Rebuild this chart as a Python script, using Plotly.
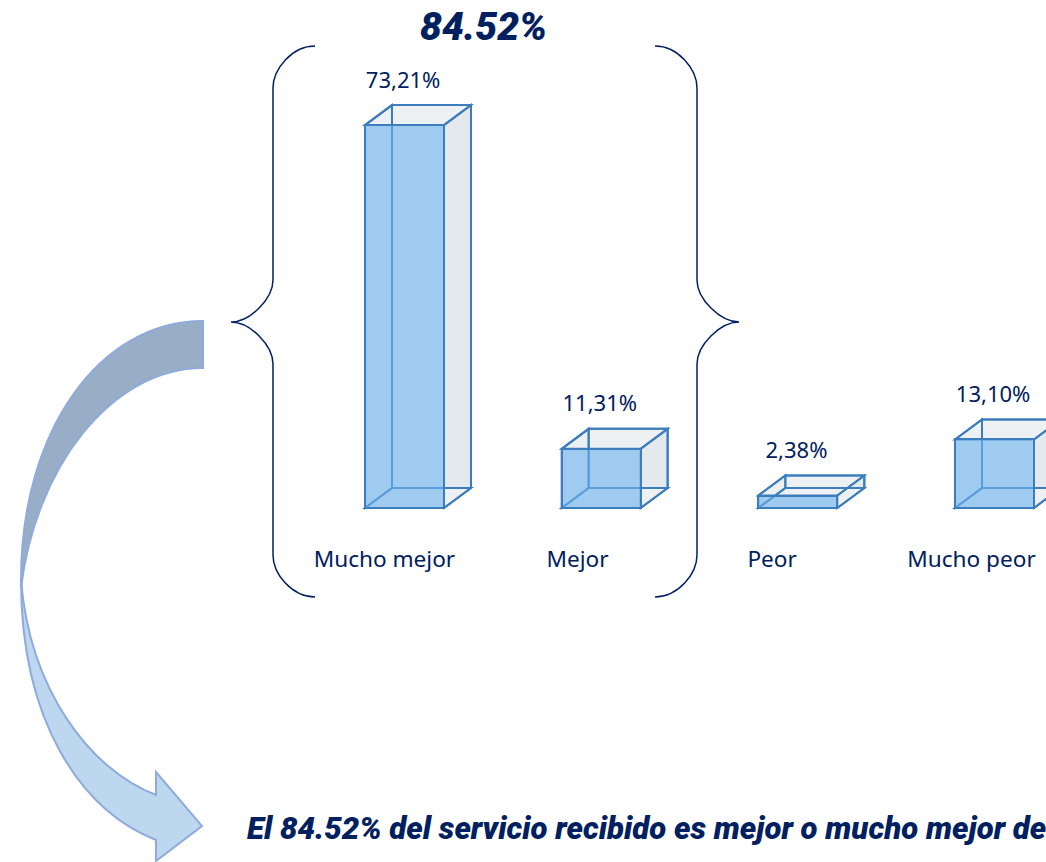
import plotly.graph_objects as go

categories = ["Mucho mejor", "Mejor", "Peor", "Mucho peor"]
values = [73.21, 11.31, 2.38, 13.10]
headline = "84.52%"
footnote = "El 84.52% del servicio recibido es mejor o mucho mejor de"

W, H = 1046, 862
BASE_PX = 508
PLOT_BOTTOM_PX = 522
PX_PER_VALUE = 5.23
PX_PER_CAT = 196.67
ORIGIN_PX = 404.5
NAVY = "#002060"
EDGE = "#3c7dbd"
FONT = "Noto Sans"
HEAVY_FONT = "Roboto"

x_pos = list(range(len(categories)))
bar_w = 79 / PX_PER_CAT
depth_x = 27 / PX_PER_CAT
depth_y = 20 / PX_PER_VALUE
label_gap = 43 / PX_PER_VALUE
tick_shift = [-0.102, -0.12, -0.131, -0.117]


def px(x):
    return x / W


def py(y):
    return 1 - y / PLOT_BOTTOM_PX


def page_path(*cmds):
    out = []
    for c in cmds:
        if isinstance(c, str):
            out.append(c)
        else:
            out.append(f"{px(c[0]):.5f},{py(c[1]):.5f}")
    return " ".join(out)


def poly(pts):
    return "M " + " L ".join(f"{a:.4f},{b:.4f}" for a, b in pts) + " Z"


fills, edges = [], []
for xp, v in zip(x_pos, values):
    l, r = xp - bar_w / 2, xp + bar_w / 2
    faces = [
        ("#eef1f4", [(l + depth_x, depth_y), (r + depth_x, depth_y), (r + depth_x, v + depth_y), (l + depth_x, v + depth_y)]),
        ("#eef1f4", [(l, 0), (l + depth_x, depth_y), (l + depth_x, v + depth_y), (l, v)]),
        ("#e4e9ee", [(r, 0), (r + depth_x, depth_y), (r + depth_x, v + depth_y), (r, v)]),
        ("#eef1f4", [(l, v), (r, v), (r + depth_x, v + depth_y), (l + depth_x, v + depth_y)]),
        ("#eef1f4", [(l, 0), (r, 0), (r + depth_x, depth_y), (l + depth_x, depth_y)]),
    ]
    for color, pts in faces:
        fills.append(dict(type="path", xref="x", yref="y", layer="below", path=poly(pts),
                          fillcolor=color, line=dict(width=0)))
        edges.append(dict(type="path", xref="x", yref="y", layer="below", path=poly(pts),
                          fillcolor="rgba(0,0,0,0)", line=dict(color=EDGE, width=2)))
shapes = fills + edges

# Braces
K = 42 * 0.45
for sign, xv in ((-1, 273), (1, 697)):
    end = xv + sign * -42
    tip = xv + sign * 42
    shapes.append(dict(
        type="path", xref="paper", yref="paper", layer="above",
        line=dict(color=NAVY, width=1.5),
        path=page_path(
            "M", (end, 46), "C", (xv - sign * K, 46), (xv, 88 - K), (xv, 88),
            "L", (xv, 280),
            "C", (xv, 280 + K), (tip - sign * K, 322), (tip, 322),
            "C", (tip - sign * K, 322), (xv, 364 - K), (xv, 364),
            "L", (xv, 555),
            "C", (xv, 555 + K), (xv - sign * K, 597), (end, 597),
        ),
    ))

# Curved arrow
ARROW_LINE = dict(color="#8faadc", width=2)
shapes.append(dict(
    type="path", xref="paper", yref="paper", layer="above", fillcolor="#bdd7ee", line=ARROW_LINE,
    path=page_path(
        "M", (21, 580), "C", (21, 720), (80, 810), (156, 840),
        "L", (156, 861), "L", (202, 826), "L", (156, 772), "L", (156, 795),
        "C", (90, 770), (30, 690), (21, 580), "Z",
    ),
))
shapes.append(dict(
    type="path", xref="paper", yref="paper", layer="above", fillcolor="#98adc6", line=ARROW_LINE,
    path=page_path(
        "M", (203, 321), "C", (100, 321), (21, 430), (21, 580),
        "L", (21, 588),
        "C", (35, 470), (110, 368), (203, 368), "Z",
    ),
))

fig = go.Figure()
fig.add_trace(go.Bar(
    x=x_pos, y=values, width=bar_w,
    marker=dict(color="rgba(108,178,239,0.6)", line=dict(color=EDGE, width=2)),
    cliponaxis=False, hoverinfo="skip", showlegend=False,
))
fig.add_trace(go.Scatter(
    x=[p - 0.007 for p in x_pos], y=[v + label_gap for v in values], mode="text",
    text=[f"{v:.2f}%".replace(".", ",") for v in values],
    textposition="middle center", textfont=dict(family=FONT, size=22, color=NAVY),
    cliponaxis=False, hoverinfo="skip", showlegend=False,
))

fig.update_layout(
    width=W, height=H, margin=dict(l=0, r=0, t=0, b=H - PLOT_BOTTOM_PX),
    paper_bgcolor="white", plot_bgcolor="rgba(0,0,0,0)",
    shapes=shapes, showlegend=False, bargap=0,
    xaxis=dict(
        range=[-ORIGIN_PX / PX_PER_CAT, (W - ORIGIN_PX) / PX_PER_CAT],
        tickmode="array", tickvals=[p + s for p, s in zip(x_pos, tick_shift)], ticktext=categories,
        ticks="outside", ticklen=17, tickcolor="rgba(0,0,0,0)", showgrid=False, zeroline=False,
        showline=False, tickfont=dict(family=FONT, size=22.6, color=NAVY),
    ),
    yaxis=dict(
        range=[(BASE_PX - PLOT_BOTTOM_PX) / PX_PER_VALUE, BASE_PX / PX_PER_VALUE],
        visible=False, showgrid=False, zeroline=False,
    ),
    annotations=[
        dict(text=headline, xref="paper", yref="paper", x=px(483), y=py(27), showarrow=False,
             xanchor="center", yanchor="middle",
             font=dict(family=HEAVY_FONT, size=39, color=NAVY, weight=900, style="italic")),
        dict(text=footnote, xref="paper", yref="paper", x=px(245), y=py(828), showarrow=False,
             xanchor="left", yanchor="middle",
             font=dict(family=HEAVY_FONT, size=31.2, color=NAVY, weight=900, style="italic")),
    ],
)

fig.write_html(
    "out.html",
    config={"displayModeBar": False},
    post_script="document.body.style.margin='0';document.body.style.overflow='hidden';",
)
